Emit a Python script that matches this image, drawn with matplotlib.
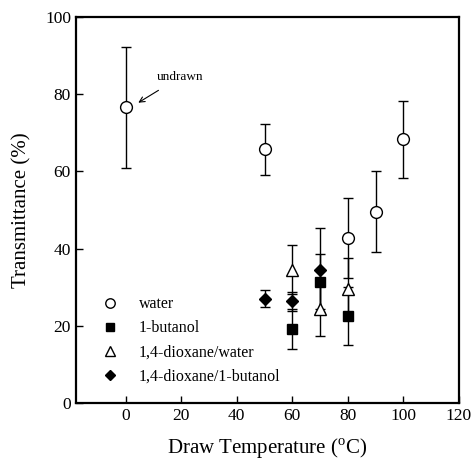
import matplotlib
matplotlib.use("Agg")
import matplotlib.pyplot as plt
from matplotlib.lines import Line2D

# draw temperature (C), transmittance (%), error half-width (%)
water_x = [0, 50, 80, 90, 100]
water_y = [76.6, 65.8, 42.8, 49.6, 68.3]
water_err = [15.7, 6.6, 10.3, 10.4, 10.0]

butanol_x = [60, 70, 80]
butanol_y = [19.1, 31.5, 22.5]
butanol_err = [5.2, 7.0, 7.5]

diox_water_x = [60, 70, 80]
diox_water_y = [34.6, 24.5, 29.5]
diox_water_err = [6.3, 7.0, 8.0]

diox_butanol_x = [50, 60, 70]
diox_butanol_y = [27.1, 26.4, 34.5]
diox_butanol_err = [2.3, 2.5, 10.8]

labels = ["water", "1-butanol", "1,4-dioxane/water", "1,4-dioxane/1-butanol"]
x_ticks = [0, 20, 40, 60, 80, 100, 120]
y_ticks = [0, 20, 40, 60, 80, 100]

plt.rcParams["font.family"] = ["Liberation Serif", "DejaVu Serif"]
plt.rcParams["mathtext.fontset"] = "custom"
plt.rcParams["mathtext.rm"] = "Liberation Serif"

fig = plt.figure(figsize=(4.74, 4.71), dpi=100)
ax = fig.add_axes([0.160, 0.144, 0.808, 0.820])

series = [
    (water_x, water_y, water_err, dict(marker="o", mfc="white", ms=8.5)),
    (butanol_x, butanol_y, butanol_err, dict(marker="s", mfc="black", ms=7)),
    (diox_water_x, diox_water_y, diox_water_err, dict(marker="^", mfc="white", ms=8.5)),
    (diox_butanol_x, diox_butanol_y, diox_butanol_err, dict(marker="D", mfc="black", ms=6.5)),
]
handles = []
for (x, y, e, st), lab in zip(series, labels):
    ax.errorbar(x, y, yerr=e, fmt="none", ecolor="black", elinewidth=1.0,
                capsize=3.5, capthick=1.0, zorder=2)
    ax.plot(x, y, ls="none", mec="black", mew=1.0, zorder=3, **st)
    handles.append(Line2D([], [], ls="none", mec="black", mew=1.0,
                          **{**st, "ms": st["ms"] * 0.8}))

ax.legend(handles, labels, loc="lower left", bbox_to_anchor=(0.035, 0.02),
          frameon=False, fontsize=11.5, handlelength=1.2, handletextpad=1.2,
          labelspacing=0.5, borderaxespad=0.3)

ax.annotate("undrawn", xy=(4.5, 77.8), xytext=(19.5, 84.4),
            ha="center", va="center", fontsize=9.5,
            arrowprops=dict(arrowstyle="->", color="black", lw=0.8,
                            shrinkA=6, shrinkB=0))

ax.set_xlim(-18, 120)
ax.set_ylim(0, 100)
ax.set_xticks(x_ticks)
ax.set_yticks(y_ticks)
ax.tick_params(direction="in", length=5, width=1, labelsize=12.5,
               top=False, right=False)
for sp in ax.spines.values():
    sp.set_linewidth(1.6)

ax.set_xlabel("Draw Temperature ($^{\\mathrm{o}}$C)", fontsize=15, labelpad=9)
ax.set_ylabel("Transmittance (%)", fontsize=15, labelpad=10)

fig.savefig("out.png", dpi=100)
